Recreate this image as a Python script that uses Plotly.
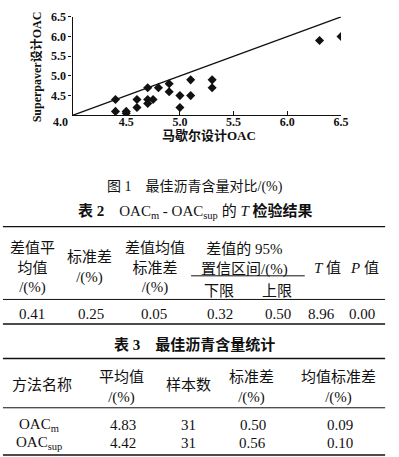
import plotly.graph_objects as go

# ---------------- data ----------------
marshall_oac = [4.4, 4.4, 4.5, 4.5, 4.6, 4.6, 4.7, 4.7, 4.7, 4.75, 4.8,
                4.9, 4.9, 5.0, 5.0, 5.1, 5.1, 5.3, 5.3, 6.3, 6.5]
superpave_oac = [4.4, 4.1, 4.1, 4.05, 4.4, 4.2, 4.7, 4.4, 4.3, 4.4, 4.7,
                 4.8, 4.6, 4.5, 4.2, 4.9, 4.5, 4.9, 4.7, 5.9, 6.0]
equal_line_x = [4.0, 6.5]
equal_line_y = [4.0, 6.5]
x_ticks = [4.5, 5.0, 5.5, 6.0, 6.5]
y_ticks = [4.5, 5.0, 5.5, 6.0, 6.5]

# table 2 (t-test)
ttest_diff_mean = 0.41
ttest_diff_sd = 0.25
ttest_diff_se = 0.05
ttest_ci_low = 0.32
ttest_ci_high = 0.50
ttest_t = 8.96
ttest_p = 0.00

# table 3 (statistics)
stats_methods = ["OAC<sub>m</sub>", "OAC<sub>sup</sub>"]
stats_mean = [4.83, 4.42]
stats_n = [31, 31]
stats_sd = [0.50, 0.56]
stats_se = [0.09, 0.10]

# ---------------- layout helpers ----------------
W, H = 399, 457
def px(x):
    return x / W
def py(y):
    return 1 - y / H

SERIF = "Liberation Serif, Noto Sans CJK SC, serif"
BLACK = "#111111"

fig = go.Figure()
fig.add_trace(go.Scatter(x=equal_line_x, y=equal_line_y, mode="lines",
                         line=dict(color=BLACK, width=1.3), showlegend=False,
                         hoverinfo="skip"))
fig.add_trace(go.Scatter(x=marshall_oac, y=superpave_oac, mode="markers",
                         marker=dict(symbol="diamond", size=7, color=BLACK),
                         showlegend=False))

annotations = []
def txt(x, y, s, size=15, bold=False, angle=0, xanchor="center"):
    annotations.append(dict(
        x=px(x), y=py(y), xref="paper", yref="paper", text=s, showarrow=False,
        xanchor=xanchor, yanchor="middle", textangle=angle,
        font=dict(family=SERIF, size=size, color=BLACK,
                  weight="bold" if bold else "normal")))

shapes = []
def hline(y, x0=3, x1=393, w=1.0):
    shapes.append(dict(type="line", xref="paper", yref="paper",
                       x0=px(x0), x1=px(x1), y0=py(y), y1=py(y),
                       line=dict(color=BLACK, width=w)))

# chart texts
txt(37, 61, "Superpaver设计OAC", size=12, bold=True, angle=-90)
txt(213, 131, "马歇尔设计OAC", size=13, bold=True)
txt(62, 117, "4.0", size=12, bold=True)

# captions
txt(199, 183, "图 1　最佳沥青含量对比/(%)", size=14)
txt(200, 208, "<b>表 2</b>　OAC<sub>m</sub> - OAC<sub>sup</sub> 的 <i>T</i> <b>检验结果</b>", size=15)

# table 2
hline(223, w=1.4)
txt(33, 265, "差值平<br>均值<br>/(%)")
txt(91, 265, "标准差<br>/(%)")
txt(158, 265, "差值均值<br>标准差<br>/(%)")
txt(249, 256, "差值的 95%<br>置信区间/(%)")
shapes.append(dict(type="line", xref="paper", yref="paper",
                   x0=px(195), x1=px(311), y0=py(273), y1=py(273),
                   line=dict(color=BLACK, width=1.0)))
txt(223, 288, "下限")
txt(283, 288, "上限")
txt(334, 265, "<i>T</i> 值")
txt(372, 265, "<i>P</i> 值")
hline(297, w=1.0)
row2 = [ttest_diff_mean, ttest_diff_sd, ttest_diff_se, ttest_ci_low,
        ttest_ci_high, ttest_t, ttest_p]
row2_x = [33, 93, 157, 224, 284, 328, 369]
for v, xx in zip(row2, row2_x):
    txt(xx, 312, f"{v:.2f}")
hline(322, w=1.4)

# table 3
txt(198, 343, "表 3　最佳沥青含量统计", size=15, bold=True)
hline(357, w=1.4)
txt(43, 384, "方法名称")
txt(124, 386, "平均值<br>/(%)")
txt(192, 384, "样本数")
txt(257, 386, "标准差<br>/(%)")
txt(345, 386, "均值标准差<br>/(%)")
hline(407, w=1.0)
for i, yy in enumerate([425, 443]):
    txt(40, yy, stats_methods[i])
    txt(126, yy, f"{stats_mean[i]:.2f}")
    txt(192, yy, f"{stats_n[i]}")
    txt(258, yy, f"{stats_sd[i]:.2f}")
    txt(347, yy, f"{stats_se[i]:.2f}")
hline(455, w=1.4)

fig.update_layout(
    width=W, height=H, autosize=False,
    margin=dict(l=0, r=0, t=0, b=0),
    paper_bgcolor="white", plot_bgcolor="white",
    annotations=annotations, shapes=shapes,
    xaxis=dict(domain=[px(74), px(348)], range=[4.0, 6.5], tickvals=x_ticks,
               ticktext=[f"{v:.1f}" for v in x_ticks],
               showgrid=False, zeroline=False, showline=True,
               linecolor=BLACK, linewidth=1.2, ticks="inside", ticklen=4,
               tickcolor=BLACK, ticklabelstandoff=-5,
               tickfont=dict(family=SERIF, size=12, color=BLACK, weight="bold")),
    yaxis=dict(domain=[py(110), py(10)], range=[4.0, 6.5], tickvals=y_ticks,
               ticktext=[f"{v:.1f}" for v in y_ticks],
               showgrid=False, zeroline=False, showline=True,
               linecolor=BLACK, linewidth=1.2, ticks="outside", ticklen=3,
               tickcolor=BLACK,
               tickfont=dict(family=SERIF, size=12, color=BLACK, weight="bold")),
)

fig.write_html("out.html", config={"displayModeBar": False},
               post_script="document.body.style.margin='0px';document.body.style.overflow='hidden';")
